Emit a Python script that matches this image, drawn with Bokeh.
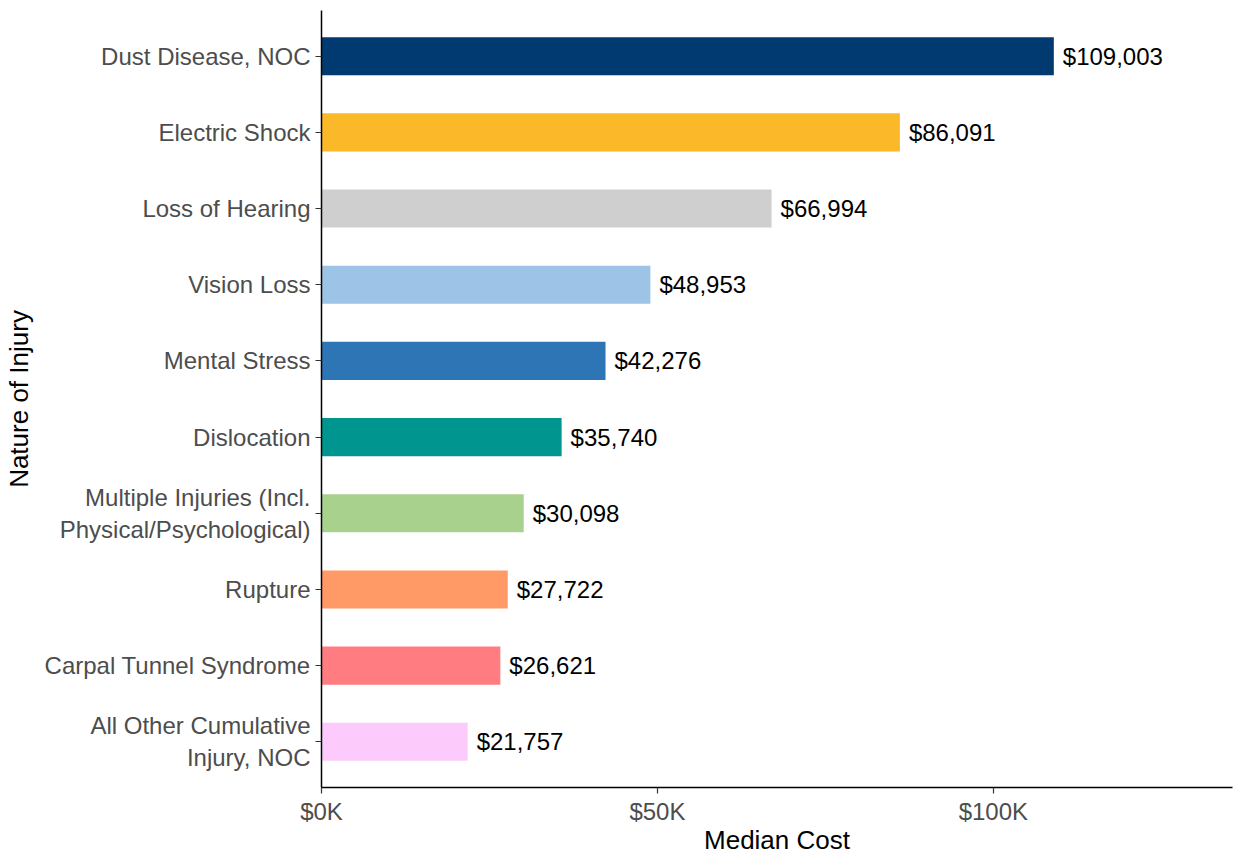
from bokeh.plotting import figure
from bokeh.models import ColumnDataSource, FactorRange, Range1d, FixedTicker, LabelSet
from bokeh.core.properties import value
from bokeh.embed import file_html
from bokeh.resources import INLINE

categories = [
    "Dust Disease, NOC",
    "Electric Shock",
    "Loss of Hearing",
    "Vision Loss",
    "Mental Stress",
    "Dislocation",
    "Multiple Injuries (Incl.\nPhysical/Psychological)",
    "Rupture",
    "Carpal Tunnel Syndrome",
    "All Other Cumulative\nInjury, NOC",
]
median_cost = [109003, 86091, 66994, 48953, 42276, 35740, 30098, 27722, 26621, 21757]
colors = ["#003A70", "#FBB829", "#D0CFCF", "#9DC3E6", "#2E75B6",
          "#00968F", "#A9D18E", "#FF9966", "#FF7C80", "#FCCBFC"]
x_ticks = [0, 50000, 100000]
x_tick_labels = ["$0K", "$50K", "$100K"]

labels = ["${:,}".format(v) for v in median_cost]
src = ColumnDataSource(dict(cat=categories, val=median_cost, color=colors, label=labels))

FONT = "Liberation Sans"

p = figure(
    y_range=FactorRange(factors=categories[::-1], range_padding=0.1, range_padding_units="absolute"),
    x_range=Range1d(0, 135600),
    width=1234, height=857,
    output_backend="svg", toolbar_location=None,
    min_border_left=321, min_border_right=2, min_border_top=10, min_border_bottom=69,
)
p.hbar(y="cat", right="val", left=0, height=0.5, fill_color="color", line_color=None, source=src)

lbl = LabelSet(x="val", y="cat", text="label", source=src, x_offset=9,
               text_align="left", text_baseline="middle",
               text_font=value(FONT), text_font_size="24px", text_color="#000000")
p.add_layout(lbl)

p.xgrid.visible = False
p.ygrid.visible = False
p.outline_line_color = None
p.background_fill_color = "white"
p.border_fill_color = "white"

p.xaxis.ticker = FixedTicker(ticks=x_ticks)
p.xaxis.major_label_overrides = {t: l for t, l in zip(x_ticks, x_tick_labels)}
p.xaxis.minor_tick_line_color = None
p.xaxis.axis_label = "Median Cost"
p.yaxis.axis_label = "Nature of Injury"

for ax in (p.xaxis[0], p.yaxis[0]):
    ax.axis_line_color = "black"
    ax.axis_line_width = 1.5
    ax.major_tick_line_color = "#333333"
    ax.major_tick_line_width = 1.2
    ax.major_tick_in = 0
    ax.major_tick_out = 6
    ax.major_label_text_font = FONT
    ax.major_label_text_font_size = "24px"
    ax.major_label_text_color = "#4D4D4D"
    ax.axis_label_text_font = FONT
    ax.axis_label_text_font_size = "26px"
    ax.axis_label_text_font_style = "normal"
    ax.axis_label_text_color = "#000000"

p.yaxis.major_label_standoff = 5
p.xaxis.major_label_standoff = 4
p.yaxis.axis_label_standoff = 8
p.xaxis.axis_label_standoff = -3

open("out.html", "w").write(file_html(p, INLINE))
